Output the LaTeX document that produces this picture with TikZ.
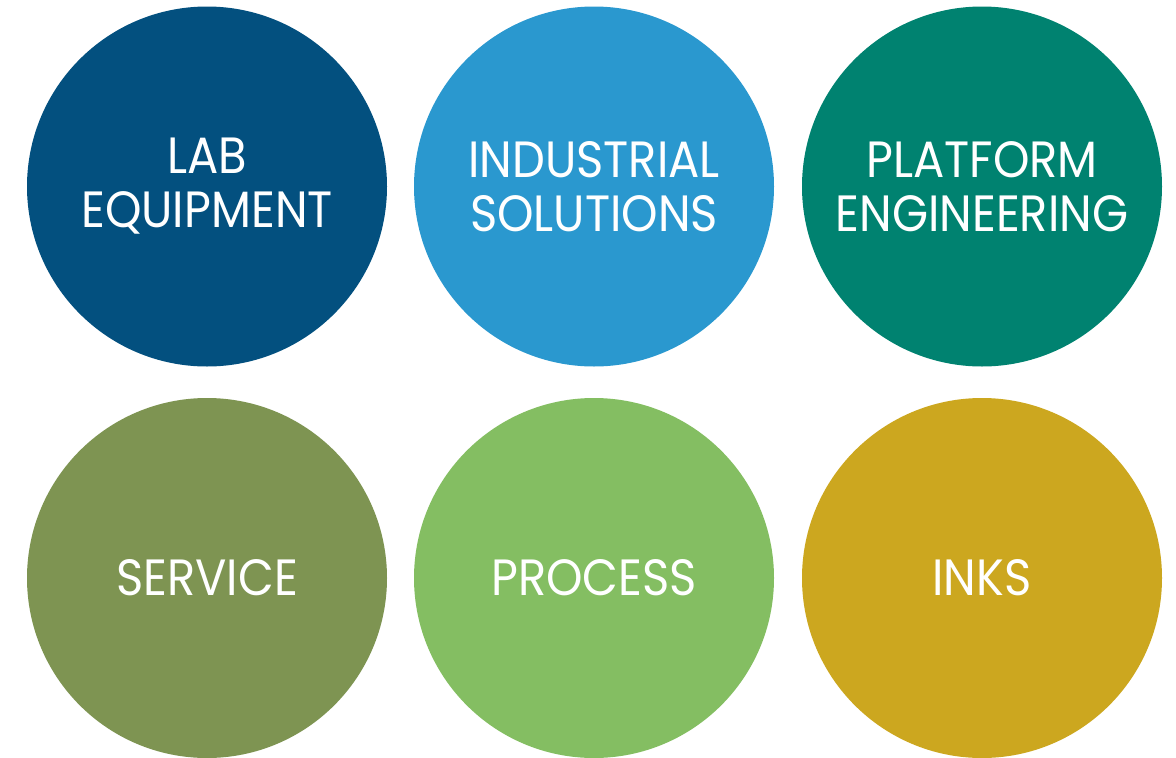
\documentclass[tikz,border=0pt]{standalone}
\usepackage{fontspec}
\newfontfamily\circfont[FakeStretch=0.91]{Poppins}
\definecolor{cLab}{HTML}{03507F}
\definecolor{cInd}{HTML}{2A98CF}
\definecolor{cPlat}{HTML}{008270}
\definecolor{cServ}{HTML}{7E9452}
\definecolor{cProc}{HTML}{84BE62}
\definecolor{cInk}{HTML}{CCA71F}
\begin{document}
\begin{tikzpicture}[x=1pt,y=-1pt,
  circ/.style={circle,minimum size=360pt,inner sep=0pt,fill=#1,draw=none,
    text=white,align=center,font={\circfont\fontsize{51}{54}\selectfont}}]
\useasboundingbox (0,0) rectangle (1176,758);
\node[circ=cLab]  (lab)  at (207,186.5) {LAB\\EQUIPMENT};
\node[circ=cInd]  (ind)  at (594,186.5) {INDUSTRIAL\\SOLUTIONS};
\node[circ=cPlat] (plat) at (982,186.5) {PLATFORM\\ENGINEERING};
\node[circ=cServ] (serv) at (207,578) {SERVICE};
\node[circ=cProc] (proc) at (594,578) {PROCESS};
\node[circ=cInk]  (ink)  at (982,578) {INKS};
\end{tikzpicture}
\end{document}
